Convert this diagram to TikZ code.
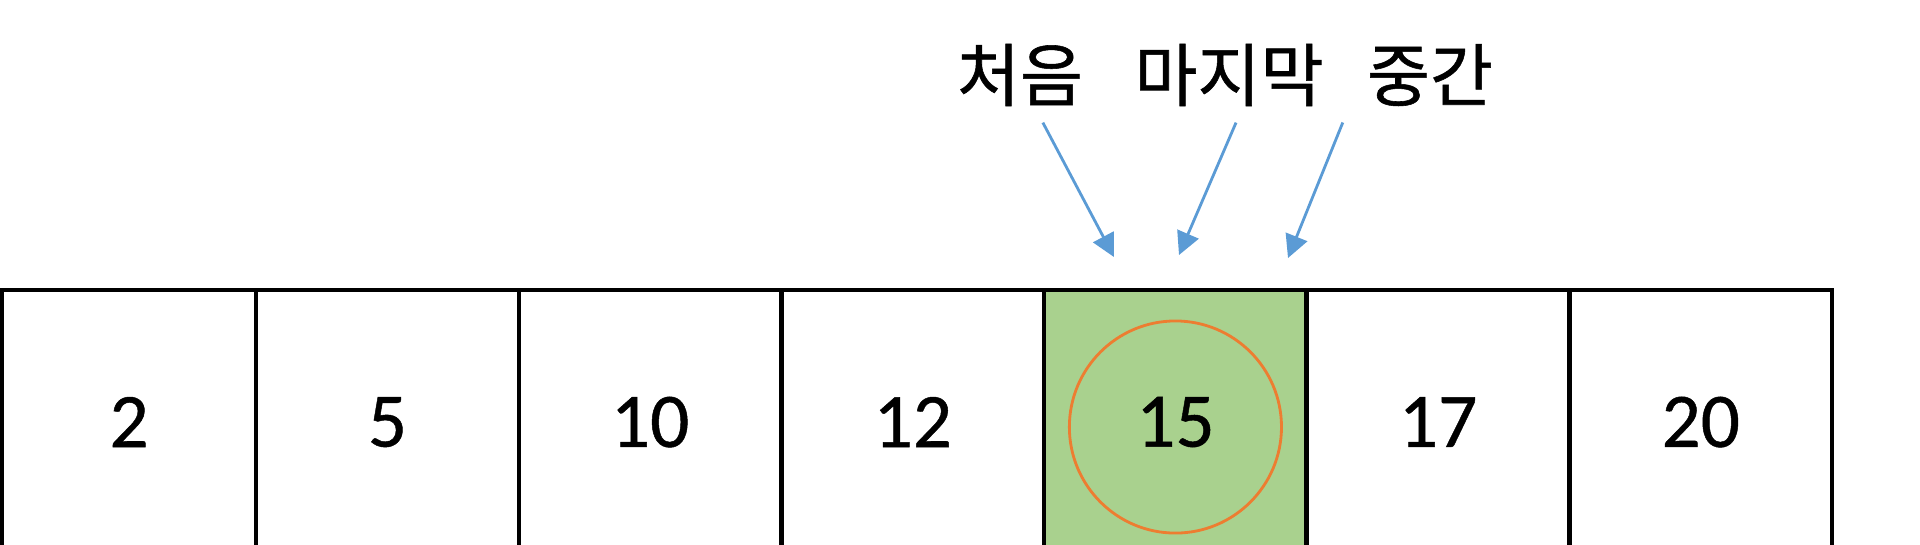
\documentclass[tikz,border=0pt]{standalone}
\usepackage{fontspec}
\setmainfont{Carlito}[FakeBold=0.6]
\newfontfamily\kor{Noto Sans CJK KR}[FakeBold=0.8]
\usetikzlibrary{arrows.meta,positioning}
\definecolor{cellgreen}{HTML}{A9D18E}
\definecolor{ringorange}{HTML}{ED7D31}
\definecolor{arrowblue}{HTML}{5B9BD5}
\tikzstyle{cell} = [rectangle, draw=black, line width=1.3pt, outer sep=0pt, inner sep=0pt, minimum width=2.625cm, minimum height=2.64cm, font=\fontsize{22}{26}\selectfont]
\tikzstyle{pointer} = [line width=0.8pt, color=arrowblue, -{Triangle[length=6.5pt,width=6.5pt]}]
\tikzstyle{tag} = [font=\kor\fontsize{19.5}{23}\selectfont, inner sep=0pt]

\begin{document}
\begin{tikzpicture}[x=0.01cm, y=-0.01cm]
\useasboundingbox (0,0) rectangle (1920,544);
% Array cells
\node (c1) [cell, minimum width=2.54cm, anchor=north west] at (2,290) {2};
\node (c2) [cell, right=0cm of c1] {5};
\node (c3) [cell, right=0cm of c2] {10};
\node (c4) [cell, right=0cm of c3] {12};
\node (c5) [cell, right=0cm of c4, fill=cellgreen] {15};
\node (c6) [cell, right=0cm of c5] {17};
\node (c7) [cell, right=0cm of c6] {20};
\node (ring) [circle, draw=ringorange, line width=0.8pt, minimum size=2.12cm] at ([yshift=-1.4pt]c5.center) {};

% Pointers
\node (first) [tag] at (1020,75) {처음};
\node (last) [tag] at (1229,75) {마지막};
\node (mid) [tag] at (1430,75) {중간};
\coordinate (t1) at (1114,257);
\coordinate (t2) at (1179,255);
\coordinate (t3) at (1288,258);
\draw[pointer] ([xshift=6.5pt,yshift=-4.5pt]first.south) -- (t1);
\draw[pointer] ([xshift=2pt,yshift=-4.5pt]last.south) -- (t2);
\draw[pointer] ([xshift=-24.8pt,yshift=-4.5pt]mid.south) -- (t3);
\end{tikzpicture}
\end{document}
